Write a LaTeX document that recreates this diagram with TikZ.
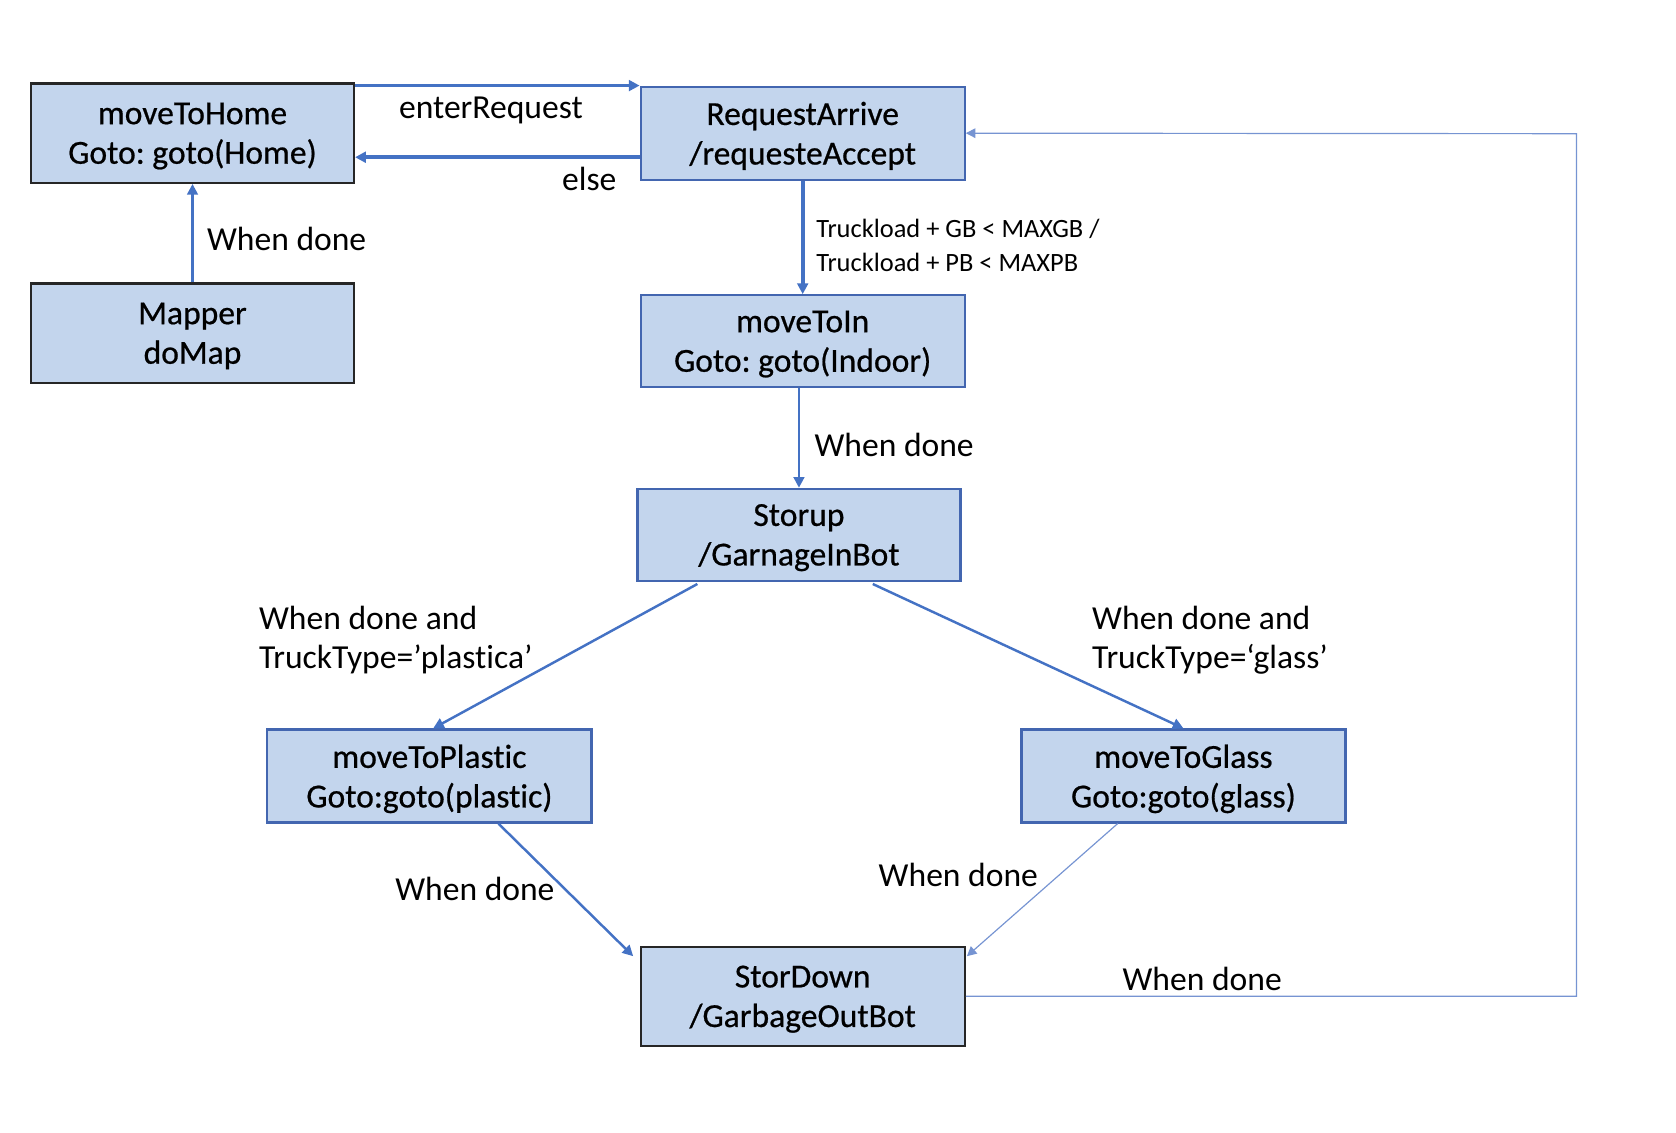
\documentclass[tikz,border=0pt]{standalone}
\usepackage{fontspec}
\setmainfont{Carlito}[Ligatures={NoCommon}]
\newfontfamily\boxfont{Carlito}[Ligatures={NoCommon},FakeBold=0.6]
\usetikzlibrary{arrows.meta}
\definecolor{boxfill}{HTML}{C3D5ED}
\definecolor{boxblue}{HTML}{4366B0}
\definecolor{arrblue}{HTML}{4472C4}
\definecolor{thinblue}{HTML}{7694D2}
\tikzset{
  statebox/.style={draw=boxblue, line width=2pt, fill=boxfill, align=center, inner sep=0pt,
    text depth=-4pt, font=\boxfont\fontsize{31.4}{37}\selectfont},
  blackbox/.style={statebox, draw=black!85},
  lbl/.style={inner sep=0pt, font=\fontsize{31.4}{37}\selectfont},
  smalllbl/.style={inner sep=0pt, align=left, font=\fontsize{24.7}{31}\selectfont},
  conn/.style={draw=arrblue, -{Triangle[length=10pt,width=10pt]}},
  thickconn/.style={conn, line width=3.6pt},
  medconn/.style={conn, line width=2.3pt},
  thinconn/.style={draw=thinblue, line width=1.1pt, -{Triangle[length=9pt,width=9pt]}},
}
\begin{document}
\frenchspacing
\begin{tikzpicture}[x=1pt,y=-1pt]
\useasboundingbox (0,0) rectangle (1567,1058.4);
% states
\node[blackbox, minimum width=302pt, minimum height=93pt] (home) at (180,124.5) {moveToHome\\Goto: goto(Home)};
\node[statebox, minimum width=303pt, minimum height=87pt] (req) at (750.5,124.5) {RequestArrive\\/requesteAccept};
\node[blackbox, minimum width=302pt, minimum height=93pt] (map) at (180,311.5) {Mapper\\doMap};
\node[statebox, minimum width=303pt, minimum height=86pt] (movein) at (750.5,319) {moveToIn\\Goto: goto(Indoor)};
\node[statebox, minimum width=302pt, minimum height=86pt] (storup) at (747,500) {Storup\\/GarnageInBot};
\node[statebox, minimum width=303pt, minimum height=87pt] (plastic) at (401.5,725.5) {moveToPlastic\\Goto:goto(plastic)};
\node[statebox, minimum width=303pt, minimum height=87pt] (glass) at (1106.5,725.5) {moveToGlass\\Goto:goto(glass)};
\node[blackbox, minimum width=303pt, minimum height=93pt] (stordown) at (750.5,931.5) {StorDown\\/GarbageOutBot};
% helper coordinates
\coordinate (enterstart) at ([yshift=-3pt]home.north east);
\coordinate (elsestart) at ([yshift=-22.5pt]req.west);
\coordinate (ploutstart) at ([xshift=-95pt,yshift=-2pt]storup.south);
\coordinate (glstart) at ([xshift=69pt,yshift=-2pt]storup.south);
\coordinate (plend) at ([xshift=3.5pt]plastic.north);
\coordinate (plsrc) at ([xshift=64.5pt]plastic.south);
\coordinate (glsrc) at ([xshift=-61.5pt]glass.south);
\coordinate (sdleft) at ([xshift=-6pt,yshift=-10pt]stordown.north west);
\coordinate (sdright) at ([xshift=1pt,yshift=-10pt]stordown.north east);
\coordinate (retA) at (1474,931.5);
\coordinate (retB) at (1474,125);
% connectors
\draw[thickconn] (enterstart) -- (enterstart -| req.west);
\draw[thickconn] (elsestart) -- (elsestart -| home.east);
\draw[medconn] (map.north) -- (home.south);
\draw[thickconn] (req.south) -- (movein.north);
\draw[medconn] (storup.north |- movein.south) -- (storup.north);
\draw[medconn] (ploutstart) -- (plend);
\draw[medconn] (glstart) -- (glass.north);
\draw[medconn] (plsrc) -- (sdleft);
\draw[thinconn] (glsrc) -- (sdright);
\draw[thinconn] (stordown.east) -- (retA) -- (retB) -- (req.east);
% labels
\node[lbl] (l1) at (459,103) {enterRequest};
\node[lbl] (l2) at (551,167) {else};
\node[lbl] (l3) at (268,223) {When done};
\node[smalllbl, anchor=west] (l4) at (763,229.5) {Truckload + GB < MAXGB /\\Truckload + PB < MAXPB};
\node[lbl] (l5) at (836,416) {When done};
\node[lbl, align=left, anchor=west] (l6) at (242,598.5) {When done and\\TruckType=’plastica’};
\node[lbl, align=left, anchor=west] (l7) at (1021,598.5) {When done and\\TruckType=‘glass’};
\node[lbl] (l8) at (444,831) {When done};
\node[lbl] (l9) at (896,818) {When done};
\node[lbl] (l10) at (1124,915) {When done};
\end{tikzpicture}
\end{document}
